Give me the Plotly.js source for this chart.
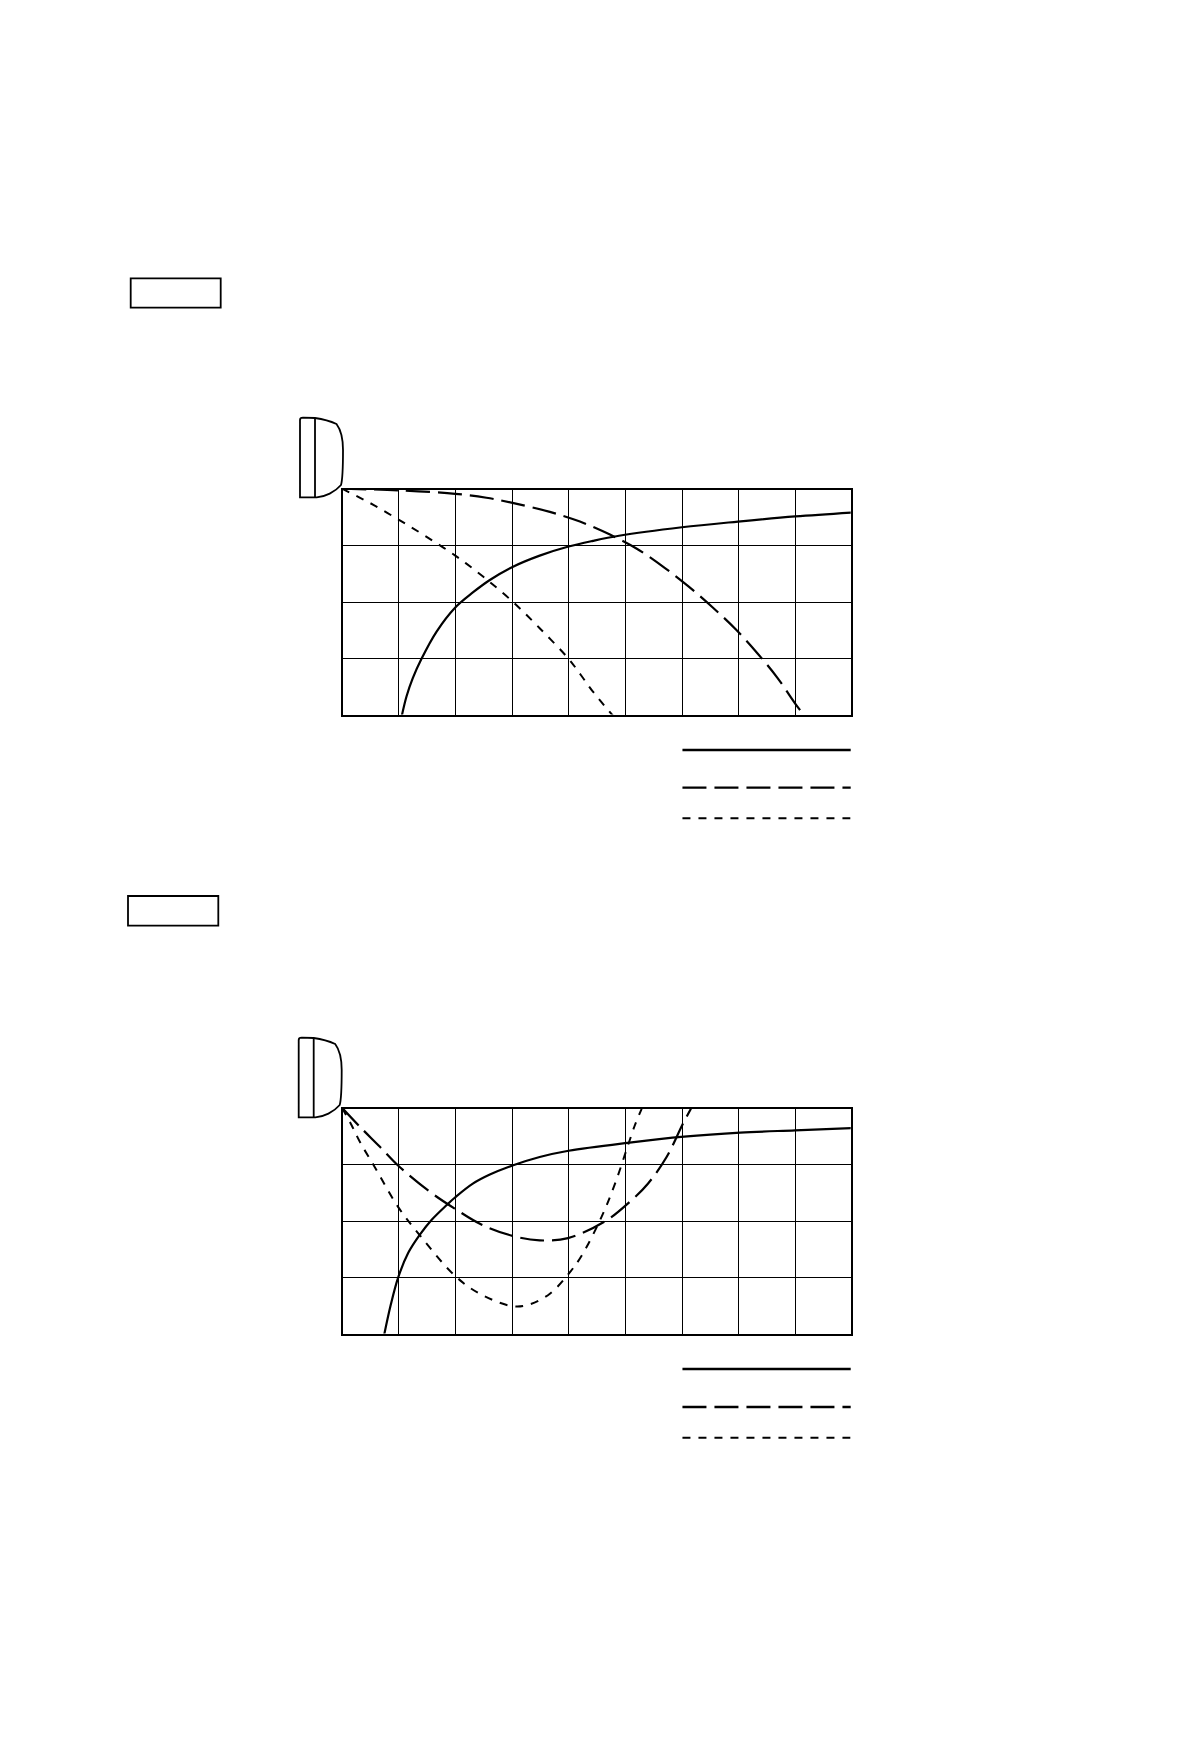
<!DOCTYPE html>
<html><head><meta charset="utf-8">
<script src="https://cdn.plot.ly/plotly-3.0.1.min.js"></script>
<style>html,body{margin:0;padding:0;background:#fff}</style></head>
<body><div id="chart" style="width:1190px;height:1754px"></div>
<script>
const solidX1=[1.057,1.14,1.25,1.404,1.67,2,2.31,2.61,3.01,3.49,4,4.43,4.89,6,6.99,8,9];
const solidY1=[0,0.34,0.66,1,1.48,1.906,2.17,2.39,2.62,2.82,2.98,3.08,3.17,3.32,3.42,3.51,3.58];
const longX1=[0,0.99,2,2.55,3.01,3.67,4.2,4.73,5.19,5.66,6.1,6.55,6.95,7.34,7.69,8,8.16];
const longY1=[4,3.97,3.91,3.84,3.75,3.59,3.42,3.19,2.95,2.63,2.29,1.9,1.52,1.09,0.66,0.21,0];
const shortX1=[0,0.49,0.99,1.48,2,2.49,3.01,3.49,4,4.22,4.43,4.78];
const shortY1=[4,3.75,3.46,3.16,2.82,2.45,2.01,1.54,1,0.71,0.42,0];
const solidX2=[0.746,0.86,0.99,1.17,1.375,1.58,1.845,2,2.31,2.61,3.01,3.49,4,5.04,6.04,7.03,8,9];
const solidY2=[0,0.52,1,1.44,1.76,2.02,2.28,2.42,2.66,2.82,2.98,3.13,3.24,3.38,3.49,3.56,3.6,3.64];
const longX2=[0,0.32,0.67,0.99,1.52,1.99,2.46,3.01,3.49,3.99,4.65,5.08,5.4,5.73,6.02,6.16];
const longY2=[4,3.66,3.31,2.98,2.54,2.22,1.94,1.74,1.66,1.7,2,2.34,2.66,3.13,3.72,3.98];
const shortX2=[0,0.17,0.32,0.58,0.99,1.375,1.99,2.43,3.01,3.31,3.67,4,4.23,4.58,4.82,5.04,5.17,5.29];
const shortY2=[4,3.69,3.39,2.95,2.25,1.75,1.04,0.72,0.5,0.53,0.72,1.07,1.39,2.07,2.66,3.31,3.69,3.98];
const gridX=[0.99,2.01,3.01,4,5,6.01,7,8.01];
const gridY1=[1,2,3];
const gridY2=[1,2,2.99];
const legendX=[6.01,9];
const W=1190,H=1754;
const LONG='24px,8px',SHORT='8px,8px';
function tr(x,y,xa,ya,dash,w){return {x,y,xaxis:xa,yaxis:ya,mode:'lines',cliponaxis:false,hoverinfo:'skip',
  line:{color:'#000',width:w||2.2,dash:dash||'solid',shape:'spline',smoothing:1}};}
const data=[
 tr(solidX1,solidY1,'x','y'),tr(longX1,longY1,'x','y',LONG),tr(shortX1,shortY1,'x','y',SHORT,2),
 tr(solidX2,solidY2,'x2','y2'),tr(longX2,longY2,'x2','y2',LONG),tr(shortX2,shortY2,'x2','y2',SHORT,2)
];
function axX(anchor){return {domain:[343/W,850.7/W],range:[0.018,8.98],tickmode:'array',tickvals:gridX,anchor,showticklabels:false,ticks:'',zeroline:false,
  showgrid:true,gridcolor:'#000',gridwidth:1,showline:true,linecolor:'#000',linewidth:2,mirror:true};}
function axY(top,bot,vals,anchor){return {domain:[1-bot/H,1-top/H],range:[0.018,3.982],tickmode:'array',tickvals:vals,anchor,showticklabels:false,ticks:'',zeroline:false,
  showgrid:true,gridcolor:'#000',gridwidth:1,showline:true,linecolor:'#000',linewidth:2,mirror:true};}
function rect(x0,y0,x1,y1){return {type:'rect',xref:'paper',yref:'paper',x0:x0/W,x1:x1/W,y0:1-y0/H,y1:1-y1/H,line:{color:'#000',width:1.8}};}
function device(dx,dy){
  const P=(x,y)=>((x+dx)/W).toFixed(5)+','+(1-(y+dy)/H).toFixed(5);
  const s={type:'path',xref:'paper',yref:'paper',line:{color:'#000',width:1.8}};
  return [{...s,path:`M${P(300,420)} L${P(300,497.3)} L${P(316.7,497.3)} C${P(325,497)} ${P(335,492)} ${P(341,485)} C${P(342.5,480)} ${P(343,465)} ${P(343,450)} C${P(343,440)} ${P(341,430)} ${P(336.5,424)} C${P(330,421)} ${P(322,419)} ${P(315,418)} L${P(303,417.7)} C${P(301,417.7)} ${P(300,418.5)} ${P(300,420)} Z`},
   {...s,path:`M${P(315,418)} L${P(315,497.3)}`}];
}
function legendLine(yPx,ax,dash,w){return {type:'line',xref:ax,yref:'paper',x0:legendX[0],x1:legendX[1],y0:1-yPx/H,y1:1-yPx/H,line:{color:'#000',width:w,dash}};}
const layout={width:W,height:H,margin:{l:0,r:0,t:0,b:0},showlegend:false,paper_bgcolor:'#fff',plot_bgcolor:'#fff',
 xaxis:axX('y'),
 yaxis:axY(489.7,714.5,gridY1,'x'),
 xaxis2:axX('y2'),
 yaxis2:axY(1108.7,1333.5,gridY2,'x2'),
 shapes:[rect(130.7,278.3,220.7,307.7),rect(128,896,218.3,925.7),...device(0,0),...device(-1.3,620),
  legendLine(750,'x','solid',2.3),legendLine(787.7,'x',LONG,2.3),legendLine(818.3,'x',SHORT,2),
  legendLine(1369,'x2','solid',2.3),legendLine(1407,'x2',LONG,2.3),legendLine(1437.7,'x2',SHORT,2)]
};
Plotly.newPlot('chart',data,layout,{displayModeBar:false,staticPlot:true});
</script></body></html>
